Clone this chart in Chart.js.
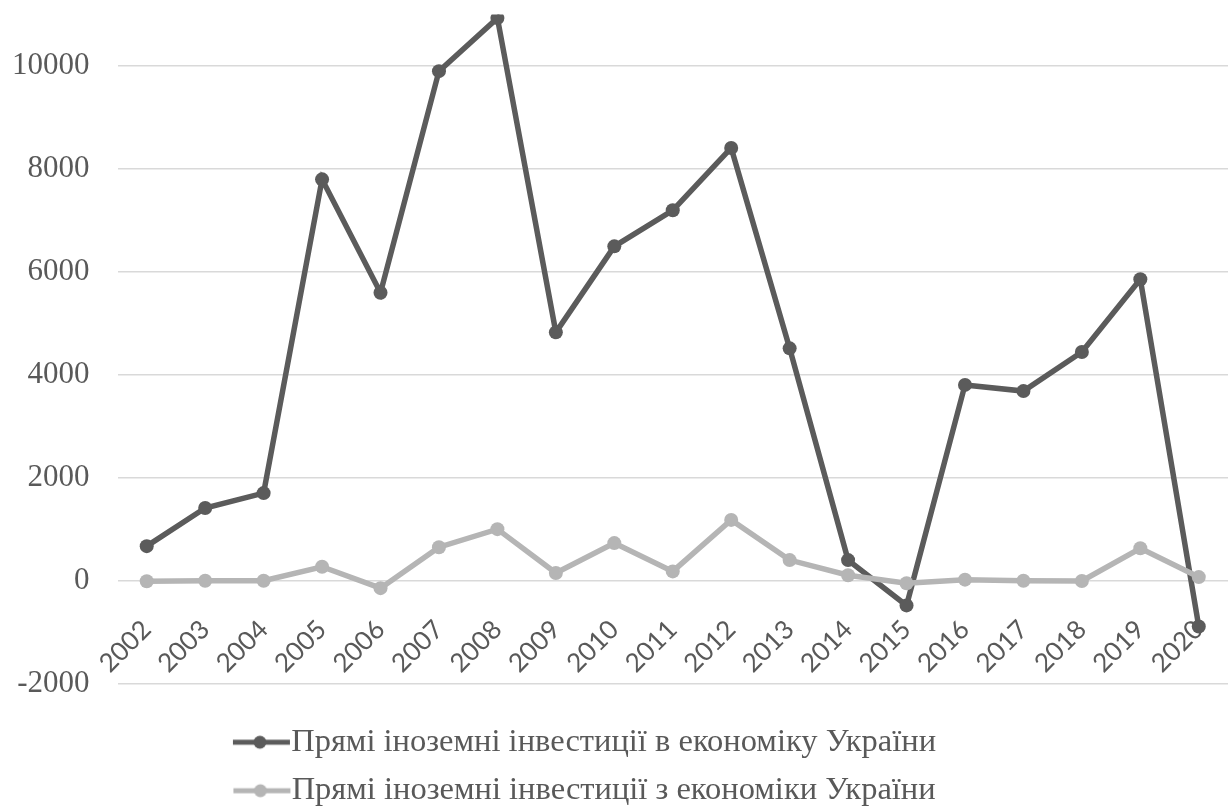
<!DOCTYPE html>
<html>
<head>
<meta charset="utf-8">
<script src="https://cdn.jsdelivr.net/npm/chart.js@4"></script>
<style>
  html, body { margin: 0; padding: 0; background: #fff; }
  #wrap { width: 1229px; height: 807px; }
</style>
</head>
<body>
<div id="wrap"><canvas id="fdi"></canvas></div>
<script>
const years = ['2002', '2003', '2004', '2005', '2006', '2007', '2008', '2009', '2010', '2011',
  '2012', '2013', '2014', '2015', '2016', '2017', '2018', '2019', '2020'];
// FDI into Ukraine's economy
const fdiIn = [680, 1420, 1710, 7800, 5600, 9900, 10930, 4830, 6500, 7200,
  8410, 4520, 410, -470, 3810, 3690, 4450, 5860, -880];
// FDI from Ukraine's economy
const fdiOut = [0, 10, 10, 280, -135, 660, 1010, 160, 740, 190,
  1190, 410, 115, -40, 30, 10, 5, 640, 80];
const seriesNames = ['Прямі іноземні інвестиції в економіку України',
  'Прямі іноземні інвестиції з економіки України'];
const yTicks = [-2000, 0, 2000, 4000, 6000, 8000, 10000];

const darkGrey = '#5b5b5b';
const lightGrey = '#b5b5b5';

// line + dot sample for the legend
function legendMarker(color) {
  const c = document.createElement('canvas');
  c.width = 59; c.height = 16;
  const g = c.getContext('2d');
  g.strokeStyle = color; g.lineWidth = 5;
  g.beginPath(); g.moveTo(1, 8); g.lineTo(58, 8); g.stroke();
  g.fillStyle = color;
  g.beginPath(); g.arc(28, 8, 6.5, 0, Math.PI * 2); g.fill();
  return c;
}
const markers = [legendMarker(darkGrey), legendMarker(lightGrey)];

// Excel puts the legend a bit left of centre
const legendShift = {
  id: 'legendShift',
  afterLayout(chart) {
    chart.legend.left -= 28;
    chart.legend.right -= 28;
  },
};

const cfg = {
  type: 'line',
  data: {
    labels: years,
    datasets: [
      {
        label: seriesNames[0],
        data: fdiIn,
        borderColor: darkGrey,
        backgroundColor: darkGrey,
        borderWidth: 5.5,
        pointRadius: 7,
        pointBorderWidth: 0,
        order: 1,
      },
      {
        label: seriesNames[1],
        data: fdiOut,
        borderColor: lightGrey,
        backgroundColor: lightGrey,
        borderWidth: 5.5,
        pointRadius: 7,
        pointBorderWidth: 0,
        order: 0,
      },
    ],
  },
  plugins: [legendShift],
  options: {
    responsive: true,
    maintainAspectRatio: false,
    animation: false,
    layout: { autoPadding: false, padding: { top: 14.5, right: 1, left: 12, bottom: -10 } },
    plugins: {
      tooltip: { enabled: false },
      legend: {
        position: 'bottom',
        labels: {
          usePointStyle: true,
          pointStyleWidth: 27,
          color: '#595959',
          padding: 16,
          font: { family: 'Liberation Serif', size: 32.5 },
          sort: (a, b) => a.datasetIndex - b.datasetIndex,
          generateLabels(chart) {
            const items = Chart.defaults.plugins.legend.labels.generateLabels(chart);
            items.forEach(it => { it.pointStyle = markers[it.datasetIndex]; });
            return items;
          },
        },
      },
    },
    scales: {
      x: {
        position: { y: 0 },
        offset: true,
        grid: { display: false },
        border: { display: false },
        afterFit: s => { s.paddingLeft = 0; s.paddingRight = 0; },
        ticks: {
          autoSkip: false,
          minRotation: 45,
          maxRotation: 45,
          padding: 25,
          color: '#595959',
          font: { family: 'Lato', size: 26 },
        },
      },
      y: {
        min: -2500,
        max: 11000,
        afterBuildTicks: scale => { scale.ticks = yTicks.map(v => ({ value: v })); },
        grid: { color: '#d9d9d9', lineWidth: 1.5, drawTicks: true, tickLength: 28, tickColor: 'rgba(0,0,0,0)' },
        border: { display: false },
        ticks: {
          padding: 0,
          color: '#595959',
          font: { family: 'Liberation Serif', size: 31, lineHeight: 0.9 },
          callback: v => String(v),
        },
      },
    },
  },
};

window.fdiChart = new Chart(document.getElementById('fdi'), cfg);
</script>
</body>
</html>
